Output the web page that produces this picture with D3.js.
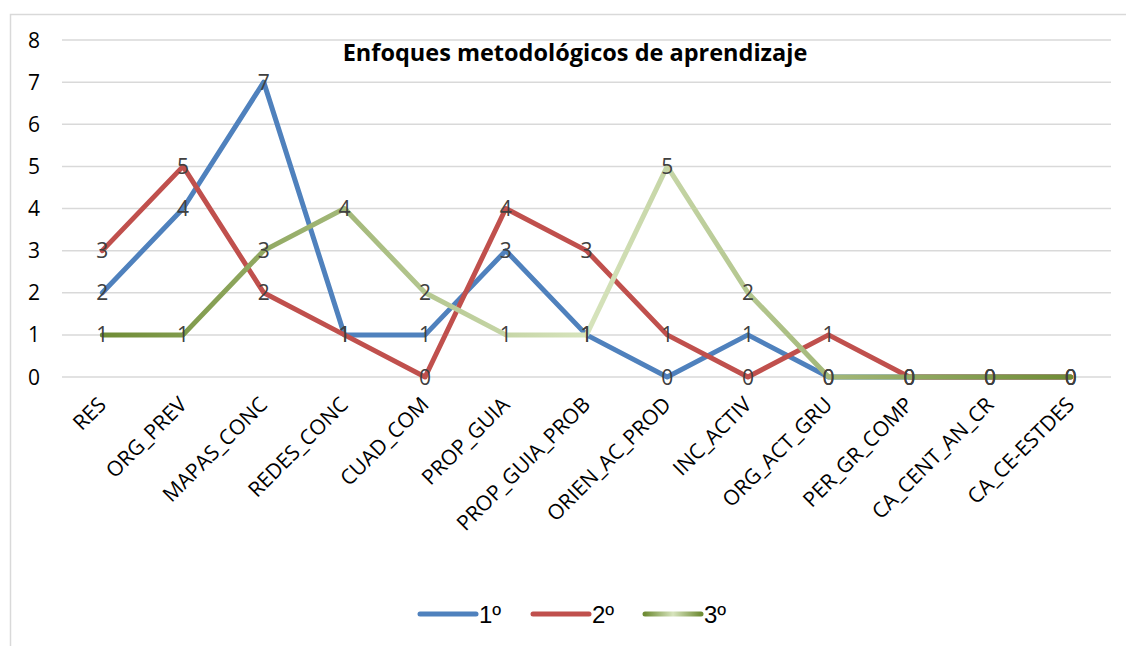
<!doctype html>
<html>
<head>
<meta charset="utf-8">
<title>Enfoques metodológicos de aprendizaje</title>
<script src="https://d3js.org/d3.v7.min.js"></script>
<style>
body { margin: 0; background: white; }
svg { display: block; font-family: "Open Sans", sans-serif; }
</style>
</head>
<body>
<div id="chart"></div>
<script>
// data
var categories = ["RES", "ORG_PREV", "MAPAS_CONC", "REDES_CONC", "CUAD_COM", "PROP_GUIA",
  "PROP_GUIA_PROB", "ORIEN_AC_PROD", "INC_ACTIV", "ORG_ACT_GRU", "PER_GR_COMP",
  "CA_CENT_AN_CR", "CA_CE-ESTDES"];
var serie1 = [2, 4, 7, 1, 1, 3, 1, 0, 1, 0, 0, 0, 0];
var serie2 = [3, 5, 2, 1, 0, 4, 3, 1, 0, 1, 0, 0, 0];
var serie3 = [1, 1, 3, 4, 2, 1, 1, 5, 2, 0, 0, 0, 0];
var seriesNames = ["1º", "2º", "3º"];
var yTicks = [0, 1, 2, 3, 4, 5, 6, 7, 8];

var width = 1126, height = 646;
var plot = { left: 62, right: 1111, top: 40, bottom: 377 };

var svg = d3.select("#chart").append("svg")
  .attr("width", width)
  .attr("height", height);

// gradient for the 3rd series (dark -> light -> dark)
var defs = svg.append("defs");
var grad = defs.append("linearGradient")
  .attr("id", "greenGrad")
  .attr("gradientUnits", "userSpaceOnUse")
  .attr("x1", 102).attr("x2", 1070).attr("y1", 0).attr("y2", 0);
grad.append("stop").attr("offset", "0%").attr("stop-color", "#6f8c35");
grad.append("stop").attr("offset", "50%").attr("stop-color", "#d7e4bd");
grad.append("stop").attr("offset", "100%").attr("stop-color", "#6f8c35");

// legend sample uses local coords of its group
var gradLeg = defs.append("linearGradient")
  .attr("id", "greenGradLeg")
  .attr("gradientUnits", "userSpaceOnUse")
  .attr("x1", 0).attr("x2", 56).attr("y1", 0).attr("y2", 0);
gradLeg.append("stop").attr("offset", "0%").attr("stop-color", "#6f8c35");
gradLeg.append("stop").attr("offset", "50%").attr("stop-color", "#d7e4bd");
gradLeg.append("stop").attr("offset", "100%").attr("stop-color", "#6f8c35");

var colors = ["#4f81bd", "#c0504d", "url(#greenGrad)"];
var legColors = ["#4f81bd", "#c0504d", "url(#greenGradLeg)"];

// chart area border
svg.append("rect")
  .attr("x", 10.5).attr("y", 14.5)
  .attr("width", 1140).attr("height", 660)
  .attr("fill", "none")
  .attr("stroke", "#d9d9d9")
  .attr("stroke-width", 1.5);

var x = d3.scalePoint()
  .domain(categories)
  .range([plot.left, plot.right])
  .padding(0.5);

var y = d3.scaleLinear()
  .domain([0, 8])
  .range([plot.bottom, plot.top]);

// gridlines
svg.append("g").selectAll("line")
  .data(yTicks)
  .join("line")
  .attr("x1", plot.left).attr("x2", plot.right)
  .attr("y1", function(d) { return y(d); })
  .attr("y2", function(d) { return y(d); })
  .attr("stroke", "#d9d9d9")
  .attr("stroke-width", 1.5);

// y labels
svg.append("g").selectAll("text")
  .data(yTicks)
  .join("text")
  .attr("x", 40)
  .attr("y", function(d) { return y(d); })
  .attr("dy", "0.36em")
  .attr("text-anchor", "end")
  .attr("font-size", "21px")
  .attr("fill", "#000")
  .text(function(d) { return d; });

// x labels
svg.append("g").selectAll("text")
  .data(categories)
  .join("text")
  .attr("transform", function(d) { return "translate(" + (x(d) + 5) + ",406) rotate(-45)"; })
  .attr("text-anchor", "end")
  .attr("font-size", "21px")
  .attr("fill", "#000")
  .text(function(d) { return d; });

// title
svg.append("text")
  .attr("x", 575)
  .attr("y", 61)
  .attr("text-anchor", "middle")
  .attr("font-size", "23.5px")
  .attr("font-weight", "bold")
  .attr("fill", "#000")
  .text("Enfoques metodológicos de aprendizaje");

var allSeries = [serie1, serie2, serie3];

var line = d3.line()
  .x(function(d, i) { return x(categories[i]); })
  .y(function(d) { return y(d); });

svg.append("g").selectAll("path")
  .data(allSeries)
  .join("path")
  .attr("d", line)
  .attr("fill", "none")
  .attr("stroke", function(d, i) { return colors[i]; })
  .attr("stroke-width", 5)
  .attr("stroke-linejoin", "round")
  .attr("stroke-linecap", "round");

// data labels
allSeries.forEach(function(s) {
  svg.append("g").selectAll("text")
    .data(s)
    .join("text")
    .attr("x", function(d, i) { return x(categories[i]); })
    .attr("y", function(d) { return y(d); })
    .attr("dy", "0.36em")
    .attr("text-anchor", "middle")
    .attr("font-size", "21px")
    .attr("fill", "#404040")
    .text(function(d) { return d; });
});

// legend
var legX = [420, 533, 645];
var leg = svg.append("g").selectAll("g")
  .data(seriesNames)
  .join("g")
  .attr("transform", function(d, i) { return "translate(" + legX[i] + ",614)"; });
leg.append("line")
  .attr("x1", 0).attr("x2", 56)
  .attr("stroke", function(d, i) { return legColors[i]; })
  .attr("stroke-width", 5)
  .attr("stroke-linecap", "round");
leg.append("text")
  .attr("x", 59)
  .attr("dy", "0.36em")
  .attr("font-family", "'Liberation Sans', sans-serif")
  .attr("font-size", "24px")
  .attr("fill", "#000")
  .text(function(d) { return d; });
</script>
</body>
</html>
